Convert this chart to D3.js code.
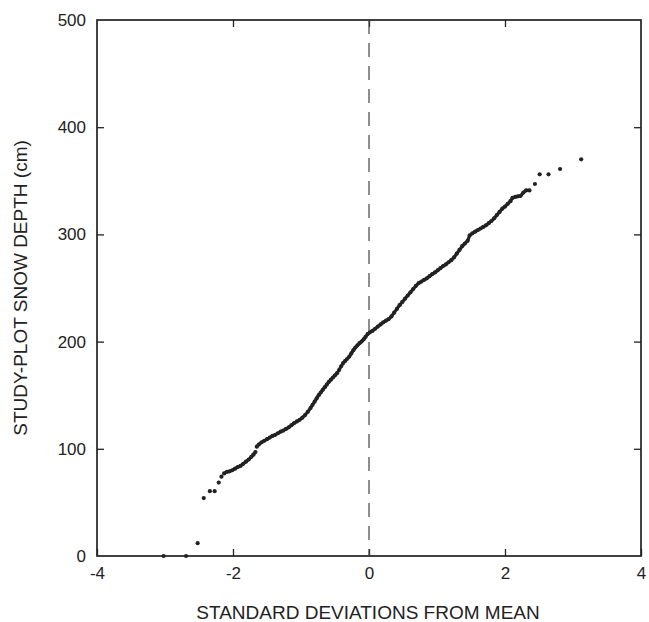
<!DOCTYPE html>
<html>
<head>
<meta charset="utf-8">
<script src="https://cdn.jsdelivr.net/npm/d3@7"></script>
<style>
  body { margin: 0; background: #fff; }
  svg { display: block; font-family: "Liberation Sans", Arial, sans-serif; }
</style>
</head>
<body>
<svg id="chart"></svg>
<script>
// Tick values
const xTicks = [-4, -2, 0, 2, 4];
const yTicks = [0, 100, 200, 300, 400, 500];

// Sparse points at the low tail [std dev, depth cm]
const lowTail = [
  [-3.02, 0], [-2.69, 0], [-2.52, 12], [-2.43, 54], [-2.34, 60.5],
  [-2.27, 60.5], [-2.21, 68.5], [-2.17, 74]
];

// Dense run below the small jump near -1.66
const runLow = [
  [-2.13, 77], [-2.09, 78.5], [-2.05, 79], [-2.01, 80], [-1.97, 81.5],
  [-1.93, 83], [-1.89, 84], [-1.85, 86], [-1.81, 88], [-1.77, 90],
  [-1.73, 92.5], [-1.70, 94.5], [-1.67, 97]
];

// Dense run above the jump
const runHigh = [
  [-1.65, 102], [-1.62, 104], [-1.58, 106], [-1.54, 107.5], [-1.50, 109],
  [-1.46, 110.5], [-1.42, 112], [-1.38, 113], [-1.34, 114.5], [-1.30, 116],
  [-1.26, 117], [-1.22, 118.5], [-1.18, 120], [-1.14, 122], [-1.10, 124],
  [-1.06, 125.5], [-1.02, 127], [-0.98, 129], [-0.94, 131.5], [-0.90, 134.5],
  [-0.86, 138], [-0.83, 141], [-0.80, 144], [-0.77, 147], [-0.74, 150],
  [-0.71, 152.5], [-0.68, 155], [-0.65, 157.5], [-0.62, 160], [-0.59, 162.5],
  [-0.56, 164.5], [-0.53, 166.5], [-0.50, 168.5], [-0.47, 170.5], [-0.44, 173.5],
  [-0.41, 177], [-0.38, 180], [-0.35, 182], [-0.32, 184], [-0.29, 186],
  [-0.26, 189], [-0.23, 192], [-0.20, 194.5], [-0.17, 196.5], [-0.14, 198.5],
  [-0.11, 200], [-0.08, 202], [-0.05, 204.5], [-0.02, 207], [0.01, 208.5],
  [0.05, 210], [0.09, 212], [0.13, 214], [0.17, 216], [0.21, 218],
  [0.25, 219.5], [0.29, 221], [0.33, 223.5], [0.37, 227], [0.41, 230.5],
  [0.45, 234], [0.49, 237], [0.53, 240], [0.57, 243], [0.61, 246],
  [0.65, 249], [0.69, 252], [0.73, 254.5], [0.77, 256], [0.81, 257.5],
  [0.85, 259], [0.89, 261], [0.93, 263], [0.97, 264.5], [1.01, 266.5],
  [1.05, 268.5], [1.09, 270.5], [1.13, 272], [1.17, 274], [1.21, 276],
  [1.25, 278.5], [1.29, 282], [1.33, 285.5], [1.37, 289], [1.41, 291.5],
  [1.45, 294], [1.48, 299], [1.52, 301], [1.56, 302.5], [1.60, 304],
  [1.64, 305.5], [1.68, 307], [1.72, 308.5], [1.76, 310.5], [1.80, 312.5],
  [1.84, 315], [1.88, 318], [1.92, 321], [1.96, 324], [2.00, 326],
  [2.04, 328.5], [2.08, 331], [2.11, 334], [2.15, 335], [2.19, 335.5],
  [2.23, 336], [2.27, 339], [2.31, 341], [2.36, 341]
];

// Sparse points at the high tail
const highTail = [
  [2.44, 347], [2.51, 356], [2.64, 356], [2.81, 361], [3.12, 370]
];

const width = 649;
const height = 622;
const marginTop = 20;
const marginRight = 8;
const marginBottom = 66;
const marginLeft = 97;

const ink = "#222";

const x = d3.scaleLinear([-4, 4], [marginLeft, width - marginRight]);
const y = d3.scaleLinear([0, 500], [height - marginBottom, marginTop]);

const svg = d3.select("#chart")
  .attr("width", width)
  .attr("height", height)
  .attr("viewBox", [0, 0, width, height]);

// Axes: ticks point inward on all four sides
const tickLen = 7;
const styleAxis = g => {
  g.select(".domain").remove();
  g.selectAll(".tick line").attr("stroke", ink).attr("stroke-width", 1.3);
  g.selectAll(".tick text").attr("fill", ink).attr("font-size", 17);
};

svg.append("g")
  .attr("transform", `translate(0,${y(0)})`)
  .call(d3.axisBottom(x).tickValues(xTicks).tickFormat(d3.format("d"))
    .tickSizeInner(-tickLen).tickSizeOuter(0).tickPadding(11))
  .call(styleAxis)
  .call(g => g.selectAll(".tick text").text(d => d < 0 ? "-" + Math.abs(d) : d));

svg.append("g")
  .attr("transform", `translate(0,${y(500)})`)
  .call(d3.axisTop(x).tickValues(xTicks.slice(1, -1))
    .tickSizeInner(-tickLen).tickSizeOuter(0).tickFormat(""))
  .call(styleAxis);

svg.append("g")
  .attr("transform", `translate(${x(-4)},0)`)
  .call(d3.axisLeft(y).tickValues(yTicks)
    .tickSizeInner(-tickLen).tickSizeOuter(0).tickPadding(11))
  .call(styleAxis)
  .call(g => g.selectAll(".tick").filter(d => d === 0 || d === 500).select("line").remove());

svg.append("g")
  .attr("transform", `translate(${x(4)},0)`)
  .call(d3.axisRight(y).tickValues(yTicks.slice(1, -1))
    .tickSizeInner(-tickLen).tickSizeOuter(0).tickFormat(""))
  .call(styleAxis);

// Frame
svg.append("rect")
  .attr("x", x(-4))
  .attr("y", y(500))
  .attr("width", x(4) - x(-4))
  .attr("height", y(0) - y(500))
  .attr("fill", "none")
  .attr("stroke", ink)
  .attr("stroke-width", 1.7);

// Dashed line at the mean
svg.append("line")
  .attr("x1", x(0)).attr("x2", x(0))
  .attr("y1", y(500)).attr("y2", y(0))
  .attr("stroke", "#444")
  .attr("stroke-width", 1.2)
  .attr("stroke-dasharray", "14,9");

// Points
const line = d3.line()
  .x(d => x(d[0]))
  .y(d => y(d[1]));

for (const run of [runLow, runHigh]) {
  svg.append("path")
    .attr("fill", "none")
    .attr("stroke", ink)
    .attr("stroke-width", 3.2)
    .attr("stroke-linejoin", "round")
    .attr("stroke-linecap", "round")
    .attr("d", line(run));
}

svg.append("g")
  .selectAll("circle")
  .data([...lowTail, ...runLow, ...runHigh, ...highTail])
  .join("circle")
  .attr("cx", d => x(d[0]))
  .attr("cy", d => y(d[1]))
  .attr("r", 2.1)
  .attr("fill", ink);

// Axis titles
svg.append("text")
  .attr("x", x(0) - 1)
  .attr("y", 619)
  .attr("text-anchor", "middle")
  .attr("font-size", 19)
  .attr("fill", ink)
  .text("STANDARD DEVIATIONS FROM MEAN");

svg.append("text")
  .attr("transform", `translate(27,${(y(0) + y(500)) / 2}) rotate(-90)`)
  .attr("text-anchor", "middle")
  .attr("font-size", 19)
  .attr("fill", ink)
  .text("STUDY-PLOT SNOW DEPTH (cm)");
</script>
</body>
</html>
